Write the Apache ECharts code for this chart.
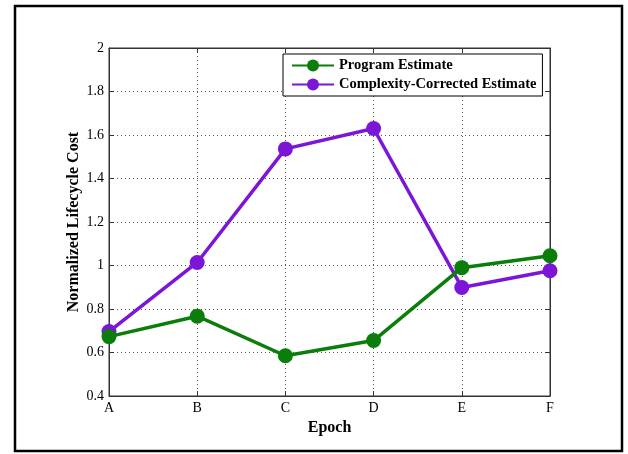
<!DOCTYPE html>
<html>
<head>
<meta charset="utf-8">
<script src="https://cdn.jsdelivr.net/npm/echarts@6/dist/echarts.min.js"></script>
<style>
html,body{margin:0;padding:0;background:#fff;}
#c{width:628px;height:454px;}
</style>
</head>
<body>
<div id="c"></div>
<script>
const categories = ['A', 'B', 'C', 'D', 'E', 'F'];
const programEstimate = [0.673, 0.767, 0.585, 0.655, 0.99, 1.045];
const complexityCorrected = [0.696, 1.014, 1.536, 1.63, 0.899, 0.976];
const yTicks = { min: 0.4, max: 2, interval: 0.2 };
const seriesNames = ['Program Estimate', 'Complexity-Corrected Estimate'];

const serif = '"Liberation Serif", "Times New Roman", serif';
const chart = echarts.init(document.getElementById('c'), null, { renderer: 'canvas' });
const gridDef = { left: 109, right: 78, top: 48, bottom: 58 };
const dotted = { show: true, lineStyle: { color: '#555', type: [1, 3], width: 1 } };

chart.setOption({
  backgroundColor: '#fff',
  animation: false,
  graphic: [{
    type: 'rect', shape: { x: 15, y: 6, width: 607, height: 445 },
    style: { fill: 'none', stroke: '#000', lineWidth: 2.5 }, silent: true, z: 0
  }],
  grid: Object.assign({ show: true, borderColor: '#333', borderWidth: 1, backgroundColor: '#fff' }, gridDef),
  legend: {
    orient: 'vertical', left: 283, top: 54,
    backgroundColor: '#fff', borderColor: '#000', borderWidth: 1,
    padding: [4, 6, 4, 8], itemGap: 4, itemWidth: 42, itemHeight: 15,
    textStyle: { fontFamily: serif, fontWeight: 'bold', fontSize: 14.5, color: '#000' },
    data: seriesNames
  },
  xAxis: [{
    type: 'category', data: categories, boundaryGap: false,
    axisLine: { lineStyle: { color: '#333', width: 1 } },
    axisTick: { inside: true, length: 5, lineStyle: { color: '#333' } },
    axisLabel: { fontFamily: serif, fontSize: 14, color: '#000', margin: 5 },
    splitLine: dotted,
    name: 'Epoch', nameLocation: 'middle', nameGap: 24,
    nameTextStyle: { fontFamily: serif, fontWeight: 'bold', fontSize: 16, color: '#000' }
  }, {
    type: 'category', data: categories, boundaryGap: false, position: 'top',
    axisLine: { show: true, lineStyle: { color: '#333' } },
    axisTick: { inside: true, length: 5, lineStyle: { color: '#333' } },
    axisLabel: { show: false }, splitLine: { show: false }
  }],
  yAxis: [{
    type: 'value', min: yTicks.min, max: yTicks.max, interval: yTicks.interval,
    axisLine: { show: true, lineStyle: { color: '#333', width: 1 } },
    axisTick: { show: true, inside: true, length: 5, lineStyle: { color: '#333' } },
    axisLabel: { fontFamily: serif, fontSize: 14, color: '#000', margin: 5,
      formatter: v => String(Math.round(v * 10) / 10) },
    splitLine: dotted,
    name: 'Normalized Lifecycle Cost', nameLocation: 'middle', nameGap: 27,
    nameMoveOverlap: false,
    nameTextStyle: { fontFamily: serif, fontWeight: 'bold', fontSize: 16, color: '#000' }
  }, {
    type: 'value', min: yTicks.min, max: yTicks.max, interval: yTicks.interval, position: 'right',
    axisLine: { show: true, lineStyle: { color: '#333' } },
    axisTick: { show: true, inside: true, length: 5, lineStyle: { color: '#333' } },
    axisLabel: { show: false }, splitLine: { show: false }
  }],
  series: [{
    name: seriesNames[0], type: 'line', data: programEstimate,
    symbol: 'circle', symbolSize: 15, color: '#0a7d0a',
    lineStyle: { width: 3.5, color: '#0a7d0a' },
    itemStyle: { color: '#0a7d0a' }, z: 3
  }, {
    name: seriesNames[1], type: 'line', data: complexityCorrected,
    symbol: 'circle', symbolSize: 15, color: '#7b16d9',
    lineStyle: { width: 3.5, color: '#7b16d9' },
    itemStyle: { color: '#7b16d9' }, z: 2
  }]
});
</script>
</body>
</html>
